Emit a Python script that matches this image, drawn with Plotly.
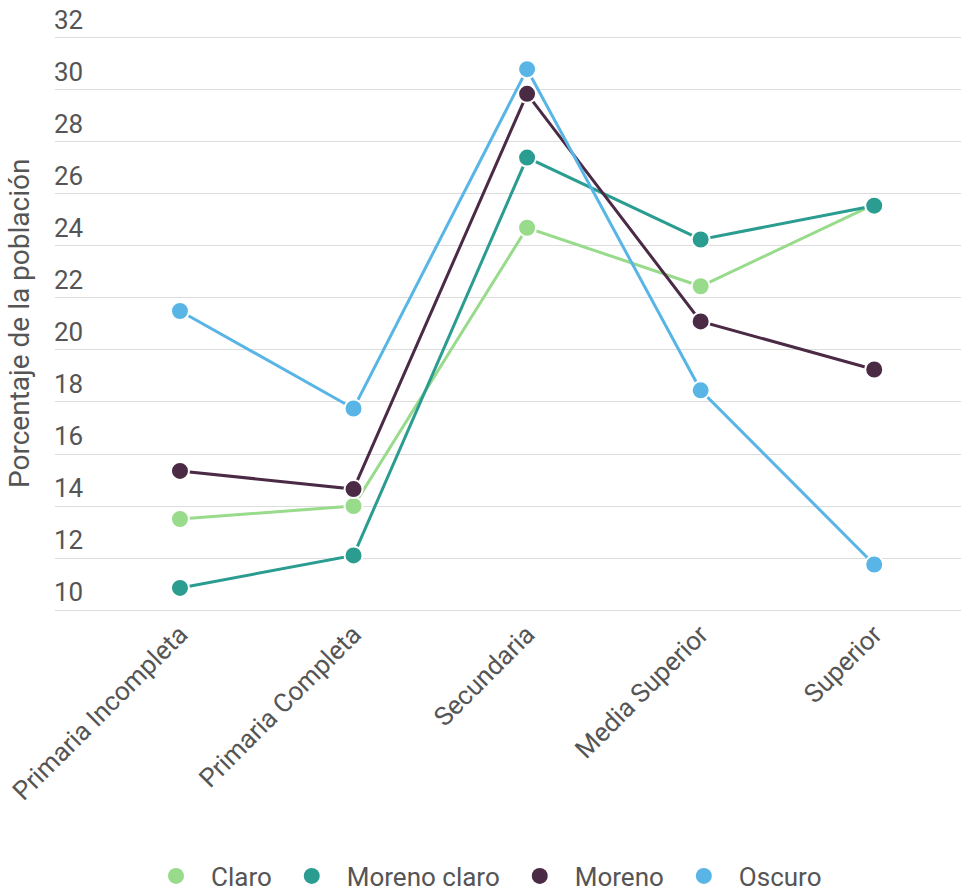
import plotly.graph_objects as go

categories = ["Primaria Incompleta", "Primaria Completa", "Secundaria", "Media Superior", "Superior"]
claro = [13.5, 14.0, 24.7, 22.45, 25.6]
moreno_claro = [10.85, 12.1, 27.4, 24.25, 25.55]
moreno = [15.35, 14.65, 29.85, 21.1, 19.25]
oscuro = [21.5, 17.75, 30.8, 18.45, 11.75]
y_ticks = [10, 12, 14, 16, 18, 20, 22, 24, 26, 28, 30, 32]
y_title = "Porcentaje de la población"

series = [
    ("Claro", claro, "#98db8b"),
    ("Moreno claro", moreno_claro, "#2a9d90"),
    ("Moreno", moreno, "#4b2a45"),
    ("Oscuro", oscuro, "#58b5e6"),
]

fig = go.Figure()
for name, vals, col in series:
    fig.add_trace(go.Scatter(
        x=categories, y=vals, mode="lines+markers", name=name,
        line=dict(color=col, width=3),
        marker=dict(size=18, color=col, line=dict(color="white", width=2)),
        showlegend=False, legendgroup=name,
    ))
for name, vals, col in series:
    fig.add_trace(go.Scatter(
        x=[None], y=[None], mode="markers", name=name, legendgroup=name,
        marker=dict(size=30, color=col),
    ))

fig.add_annotation(
    text=y_title, textangle=-90, xref="paper", x=0, xanchor="center", xshift=-35,
    yref="y", y=(y_ticks[0] + y_ticks[-1]) / 2, yanchor="middle", showarrow=False,
    font=dict(size=28, color="#555555", family="Roboto, sans-serif"),
)

fig.update_layout(
    width=961, height=895,
    paper_bgcolor="white", plot_bgcolor="white",
    margin=dict(l=55, r=0, t=0, b=282, autoexpand=False),
    font=dict(family="Roboto, sans-serif", color="#555555", size=26),
    xaxis=dict(
        type="category", range=[-0.72, 4.5], showgrid=False, zeroline=False,
        showline=False, tickangle=-45, tickfont=dict(size=26, color="#555555"),
        ticks="", automargin=False,
    ),
    yaxis=dict(
        range=[9.885, 33.46], tickvals=y_ticks,
        showgrid=True, gridcolor="#dddddd",
        gridwidth=1, zeroline=False, showline=False, ticklabelposition="inside top",
        ticklabelstandoff=-4,
        tickfont=dict(size=26, color="#555555"), automargin=False,
    ),
    legend=dict(
        orientation="h", x=0.4735, xanchor="center", y=-0.429, yanchor="middle",
        font=dict(size=26, color="#555555"), itemsizing="trace", itemwidth=60,
    ),
)

fig.write_html("out.html", config={"displayModeBar": False},
               post_script="document.body.style.margin='0';")
